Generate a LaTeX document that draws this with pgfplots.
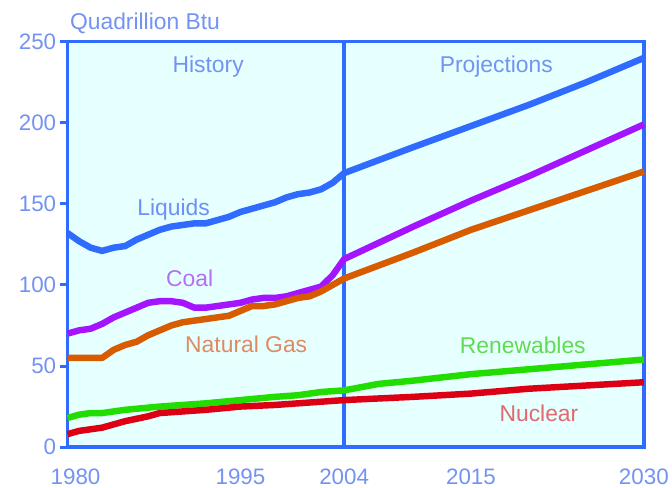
\documentclass[border=0pt]{standalone}
\usepackage{pgfplots}
\pgfplotsset{compat=1.18}
\usepackage{fontspec}
\setmainfont{Liberation Sans}
\definecolor{axisblue}{HTML}{2F6BFF}
\definecolor{bgcyan}{HTML}{E6FFFF}
\definecolor{labblue}{HTML}{7393F3}
\definecolor{cliq}{HTML}{2F6BFF}
\definecolor{ccoal}{HTML}{A514FF}
\definecolor{cgas}{HTML}{D95B00}
\definecolor{cren}{HTML}{22DD00}
\definecolor{cnuc}{HTML}{DD0015}
\definecolor{tliq}{HTML}{6E8FF5}
\definecolor{tcoal}{HTML}{B470F5}
\definecolor{tgas}{HTML}{E08A62}
\definecolor{tren}{HTML}{62DB52}
\definecolor{tnuc}{HTML}{E06A70}
\begin{document}
\begin{tikzpicture}
\begin{axis}[
  scale only axis,
  width=580bp, height=408bp,
  xmin=1980, xmax=2030, ymin=0, ymax=250,
  axis background/.style={fill=bgcyan},
  axis line style={axisblue, line width=3.5bp},
  clip=false,
  xtick={1980,1995,2004,2015,2030},
  xticklabels={\hspace{16bp}1980,1995,2004,2015,2030},
  ytick={0,50,100,150,200,250},
  x tick style={draw=none},
  y tick style={axisblue, line width=3bp},
  tick align=outside,
  major tick length=8bp,
  axis x line*=box, axis y line*=box,
  xtick pos=bottom, ytick pos=left,
  /pgf/number format/assume math mode=true,
  /pgf/number format/set thousands separator={},
  tick label style={font=\fontsize{22.5bp}{26bp}\selectfont, text=labblue},
  xticklabel style={yshift=-10bp},
  yticklabel style={xshift=0bp},
]
\draw[axisblue, line width=3.5bp] (axis cs:2004,0) -- (axis cs:2004,250);
% Liquids
\addplot[cliq, line width=6.5bp, line join=round] coordinates {
(1980,132)(1981,127)(1982,123)(1983,121)(1984,123)(1985,124)(1986,128)(1987,131)
(1988,134)(1989,136)(1990,137)(1991,138)(1992,138)(1993,140)(1994,142)(1995,145)
(1996,147)(1997,149)(1998,151)(1999,154)(2000,156)(2001,157)(2002,159)(2003,163)
(2004,169)(2010,185)(2015,198)(2020,211)(2025,225)(2030,240)};
% Coal
\addplot[ccoal, line width=6.5bp, line join=round] coordinates {
(1980,70)(1981,72)(1982,73)(1983,76)(1984,80)(1985,83)(1986,86)(1987,89)
(1988,90)(1989,90)(1990,89)(1991,86)(1992,86)(1993,87)(1994,88)(1995,89)
(1996,91)(1997,92)(1998,92)(1999,93)(2000,95)(2001,97)(2002,99)(2003,106)
(2004,116)(2010,136)(2015,152)(2020,167)(2025,183)(2030,199)};
% Natural gas
\addplot[cgas, line width=6.5bp, line join=round] coordinates {
(1980,55)(1981,55)(1982,55)(1983,55)(1984,60)(1985,63)(1986,65)(1987,69)
(1988,72)(1989,75)(1990,77)(1991,78)(1992,79)(1993,80)(1994,81)(1995,84)
(1996,87)(1997,87)(1998,88)(1999,90)(2000,92)(2001,93)(2002,96)(2003,100)
(2004,104)(2010,120)(2015,134)(2020,146)(2025,158)(2030,170)};
% Renewables
\addplot[cren, line width=6.5bp, line join=round] coordinates {
(1980,18)(1981,20)(1982,21)(1983,21)(1985,23)(1988,25)(1990,26)(1992,27)
(1995,29)(1998,31)(2000,32)(2002,34)(2004,35)(2007,39)(2010,41)(2015,45)
(2020,48)(2025,51)(2030,54)};
% Nuclear
\addplot[cnuc, line width=6.5bp, line join=round] coordinates {
(1980,8)(1981,10)(1983,12)(1985,16)(1987,19)(1988,21)(1990,22)(1992,23)
(1995,25)(1998,26)(2000,27)(2002,28)(2004,29)(2010,31)(2015,33)(2020,36)
(2025,38)(2030,40)};
\begin{scope}[font=\fontsize{23bp}{27bp}\selectfont, inner sep=0pt]
\node[anchor=base west, text=labblue] at (axis cs:1980.2,257.4) {Quadrillion Btu};
\node[anchor=base, text=labblue] at (axis cs:1992.2,231) {History};
\node[anchor=base, text=labblue] at (axis cs:2017.2,231) {Projections};
\node[anchor=base, text=tliq] at (axis cs:1989.2,142.8) {Liquids};
\node[anchor=base, text=tcoal] at (axis cs:1990.6,99.3) {Coal};
\node[anchor=base, text=tgas] at (axis cs:1995.5,58.2) {Natural Gas};
\node[anchor=base, text=tren] at (axis cs:2019.5,57.6) {Renewables};
\node[anchor=base, text=tnuc] at (axis cs:2020.9,15.9) {Nuclear};
\end{scope}
\end{axis}
\path[use as bounding box] (current axis.south west) ++(-68bp,-38bp) rectangle ++(672bp,488bp);
\end{tikzpicture}
\end{document}
